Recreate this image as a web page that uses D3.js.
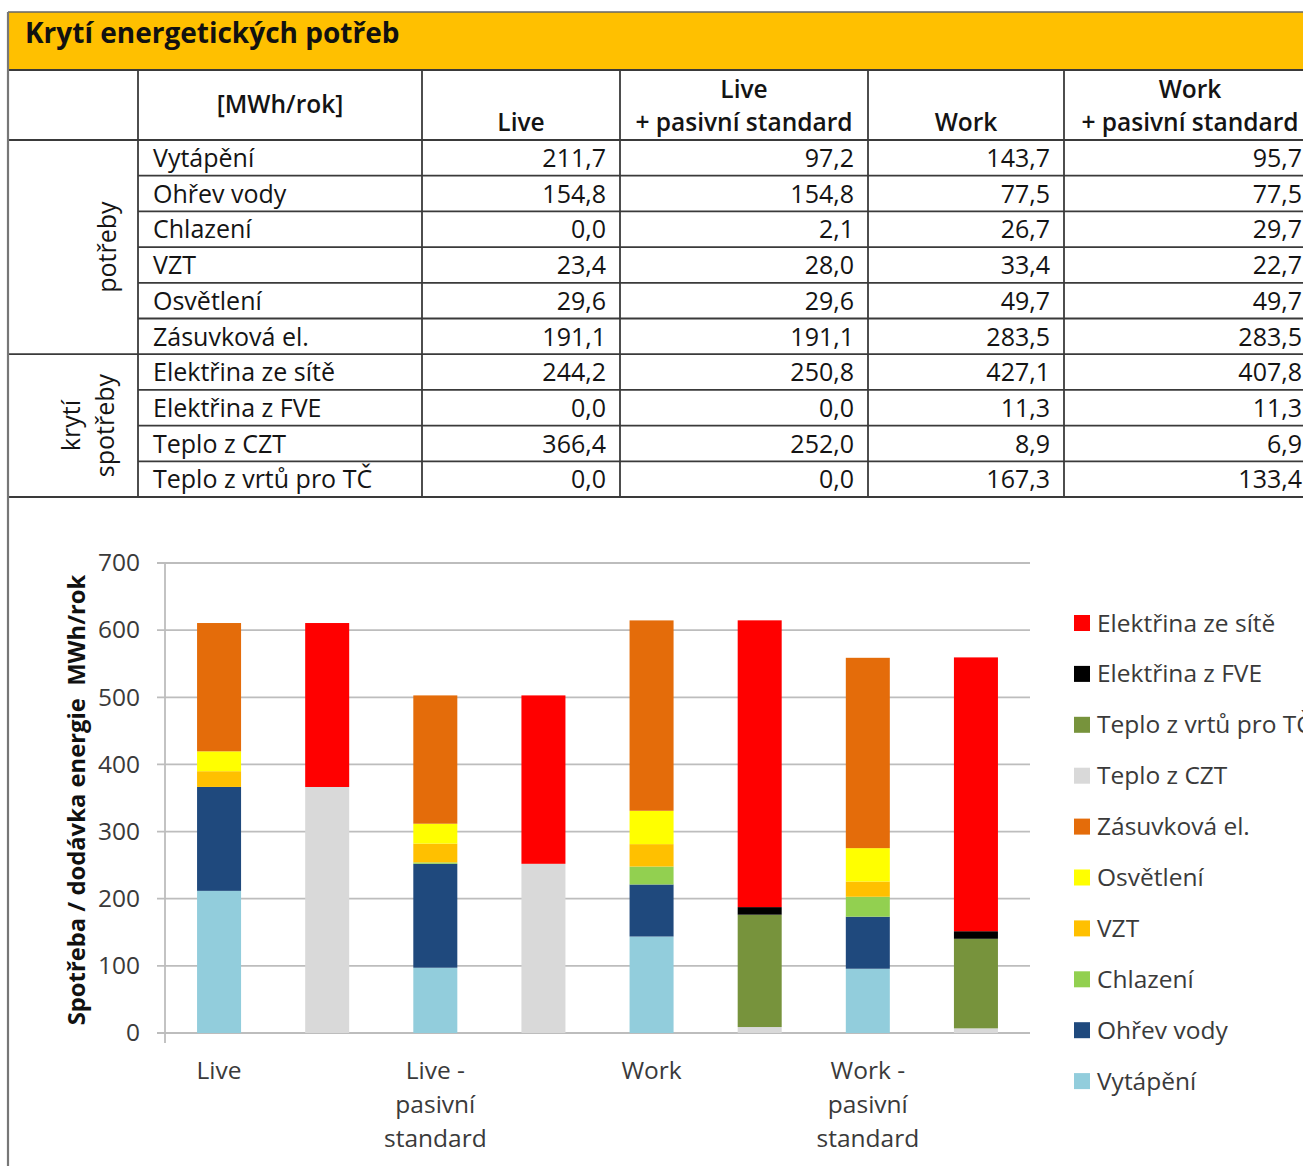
<!DOCTYPE html>
<html>
<head>
<meta charset="utf-8">
<script src="https://cdn.jsdelivr.net/npm/d3@7"></script>
<style>
  html, body { margin: 0; padding: 0; background: #fff; }
  svg { display: block; }
  text { font-family: "Open Sans", Carlito, Calibri, sans-serif; }
</style>
</head>
<body>
<svg id="page" width="1303" height="1166"></svg>
<script>
// ---- data ----
const title = "Krytí energetických potřeb";
const unitLabel = "[MWh/rok]";
const scenarioHeads = [["", "Live"], ["Live", "+ pasivní standard"], ["", "Work"], ["Work", "+ pasivní standard"]];
const rowNames = ["Vytápění", "Ohřev vody", "Chlazení", "VZT", "Osvětlení", "Zásuvková el.",
                  "Elektřina ze sítě", "Elektřina z FVE", "Teplo z CZT", "Teplo z vrtů pro TČ"];
const live      = [211.7, 154.8,  0.0, 23.4, 29.6, 191.1, 244.2,  0.0, 366.4,   0.0];
const livePas   = [ 97.2, 154.8,  2.1, 28.0, 29.6, 191.1, 250.8,  0.0, 252.0,   0.0];
const work      = [143.7,  77.5, 26.7, 33.4, 49.7, 283.5, 427.1, 11.3,   8.9, 167.3];
const workPas   = [ 95.7,  77.5, 29.7, 22.7, 49.7, 283.5, 407.8, 11.3,   6.9, 133.4];
const groupLabels = [["potřeby"], ["krytí", "spotřeby"]];

const demandKeys = ["Vytápění", "Ohřev vody", "Chlazení", "VZT", "Osvětlení", "Zásuvková el."];
const supplyKeys = ["Teplo z CZT", "Teplo z vrtů pro TČ", "Elektřina z FVE", "Elektřina ze sítě"];
const barLabels = ["Live", "", "Live - pasivní standard", "", "Work", "", "Work - pasivní standard", ""];
const yTicks = [0, 100, 200, 300, 400, 500, 600, 700];
const yTitle = "Spotřeba / dodávka energie  MWh/rok";
const seriesColors = ["#92CDDC", "#1F497D", "#92D050", "#FFC000", "#FFFF00", "#E46C0A",
                      "#D9D9D9", "#77933C", "#000000", "#FF0000"];

// ---- helpers ----
const svg = d3.select("#page");
const fmt = d3.formatLocale({ decimal: ",", thousands: " ", grouping: [3], currency: ["", ""] }).format(".1f");
const lineCol = "#3a3a3a";
const txtCol = "#141414";
const fs = 25;      // table text
const cfs = 24.5;   // chart text
const chartTxt = "#3a3a3a";

function hline(x1, x2, y, w = 1.8, c = lineCol) {
  svg.append("line").attr("x1", x1).attr("x2", x2).attr("y1", y).attr("y2", y)
    .attr("stroke", c).attr("stroke-width", w);
}
function vline(x, y1, y2, w = 1.8, c = lineCol) {
  svg.append("line").attr("x1", x).attr("x2", x).attr("y1", y1).attr("y2", y2)
    .attr("stroke", c).attr("stroke-width", w);
}

// ---- title band ----
const L = 8, R = 1316;
svg.append("rect").attr("x", L).attr("y", 12).attr("width", R - L).attr("height", 58).attr("fill", "#FFC000");
hline(L, R, 12, 1.6, "#666");
svg.append("text").attr("x", 25).attr("y", 43).attr("font-size", 28).attr("font-weight", 700)
  .attr("fill", "#111").text(title);

// ---- table ----
const colX = [L, 138, 422, 620, 868, 1064, R];
const headTop = 70, headBot = 140, rowH = 35.7;
const rowY = d3.range(rowNames.length + 1).map(i => headBot + i * rowH);
const tableBot = rowY[rowY.length - 1];

hline(L, R, headTop);
hline(L, R, headBot);
rowY.slice(1).forEach((y, i) => {
  const full = (i === 5 || i === rowNames.length - 1);
  hline(full ? L : colX[1], R, y);
});
colX.slice(1, 6).forEach(x => vline(x, headTop, tableBot));
vline(L, 12, 1166, 2.2, "#777");

// header
svg.append("text").attr("x", (colX[1] + colX[2]) / 2).attr("y", 113).attr("text-anchor", "middle")
  .attr("font-size", 24.5).attr("font-weight", 600).attr("fill", txtCol).text(unitLabel);
scenarioHeads.forEach((h, i) => {
  const cx = (colX[i + 2] + colX[i + 3]) / 2;
  h.forEach((s, j) => {
    if (!s) return;
    svg.append("text").attr("x", cx).attr("y", j === 0 ? 98 : 131).attr("text-anchor", "middle")
      .attr("font-size", 24.5).attr("font-weight", 600).attr("fill", txtCol).text(s);
  });
});

// body rows
const cols = [live, livePas, work, workPas];
rowNames.forEach((name, r) => {
  const base = rowY[r] + 27;
  svg.append("text").attr("x", 153).attr("y", base).attr("font-size", fs).attr("fill", txtCol).text(name);
  cols.forEach((col, c) => {
    svg.append("text").attr("x", colX[c + 3] - 14).attr("y", base).attr("text-anchor", "end")
      .attr("font-size", fs).attr("fill", txtCol).text(fmt(col[r]));
  });
});

// rotated group labels
const groupSpans = [[rowY[0], rowY[6]], [rowY[6], rowY[10]]];
groupLabels.forEach((lines, g) => {
  const cy = (groupSpans[g][0] + groupSpans[g][1]) / 2;
  const xs = lines.length === 1 ? [116] : [80, 114];
  lines.forEach((s, k) => {
    svg.append("text").attr("transform", `translate(${xs[k]},${cy}) rotate(-90)`)
      .attr("text-anchor", "middle").attr("font-size", fs).attr("fill", txtCol).text(s);
  });
});

// ---- chart ----
const bars = barLabels.map((lab, i) => {
  const src = cols[Math.floor(i / 2)];
  const o = { label: lab };
  rowNames.forEach((n, k) => {
    const isDemand = demandKeys.includes(n);
    o[n] = (i % 2 === 0) === isDemand ? src[k] : 0;
  });
  return o;
});
const keys = demandKeys.concat(supplyKeys);
const color = d3.scaleOrdinal().domain(keys).range(seriesColors);
const stacked = d3.stack().keys(keys)(bars);

const plot = { left: 165, right: 1030, top: 563, bottom: 1033 };
const x = d3.scaleBand().domain(d3.range(bars.length)).range([plot.left, plot.right])
  .paddingInner(0.593).paddingOuter(0.2965);
const y = d3.scaleLinear().domain([0, 700]).range([plot.bottom, plot.top]);

// gridlines
svg.append("g").selectAll("line").data(yTicks).join("line")
  .attr("x1", plot.left - 8).attr("x2", plot.right)
  .attr("y1", d => y(d)).attr("y2", d => y(d))
  .attr("stroke", "#bdbdbd").attr("stroke-width", 1.8);

// y axis
const yAxis = svg.append("g").attr("transform", `translate(${plot.left},0)`)
  .call(d3.axisLeft(y).tickValues(yTicks).tickSize(0).tickPadding(25));
yAxis.select(".domain").remove();
yAxis.selectAll("text").attr("font-size", cfs).attr("fill", chartTxt)
  .style("font-family", "'Open Sans', Carlito, Calibri, sans-serif");
vline(plot.left, plot.top, plot.bottom + 10, 1.8, "#bdbdbd");

// bars
svg.append("g").selectAll("g").data(stacked).join("g")
  .attr("fill", d => color(d.key))
  .selectAll("rect").data(d => d).join("rect")
  .attr("x", (d, i) => x(i)).attr("width", x.bandwidth())
  .attr("y", d => y(d[1])).attr("height", d => y(d[0]) - y(d[1]));

// category labels
const xAxis = svg.append("g").attr("transform", `translate(0,${plot.bottom})`)
  .call(d3.axisBottom(x).tickSize(0).tickFormat(() => ""));
xAxis.select(".domain").remove();
xAxis.selectAll(".tick").each(function (i) {
  const lab = barLabels[i];
  if (!lab) return;
  const parts = lab.includes(" - ") ? [lab.split(" - ")[0] + " -"].concat(lab.split(" - ")[1].split(" ")) : [lab];
  const t = d3.select(this).append("text").attr("fill", chartTxt).attr("font-size", cfs)
    .attr("text-anchor", "middle").style("font-family", "'Open Sans', Carlito, Calibri, sans-serif");
  parts.forEach((p, k) => t.append("tspan").attr("x", 0).attr("y", 46 + k * 34).text(p));
});

// y title
svg.append("text").attr("transform", `translate(85,${(plot.top + plot.bottom) / 2 + 2}) rotate(-90)`)
  .attr("text-anchor", "middle").attr("font-size", 23.8).attr("font-weight", 700).attr("fill", "#111")
  .style("white-space", "pre").text(yTitle);

// legend
const legendKeys = keys.slice().reverse();
const lg = svg.append("g").selectAll("g").data(legendKeys).join("g")
  .attr("transform", (d, i) => `translate(1074,${623 + i * 50.9})`);
lg.append("rect").attr("x", 0).attr("y", -8).attr("width", 16).attr("height", 16).attr("fill", d => color(d));
lg.append("text").attr("x", 23).attr("y", 8.5).attr("font-size", cfs).attr("fill", chartTxt).text(d => d);
</script>
</body>
</html>
